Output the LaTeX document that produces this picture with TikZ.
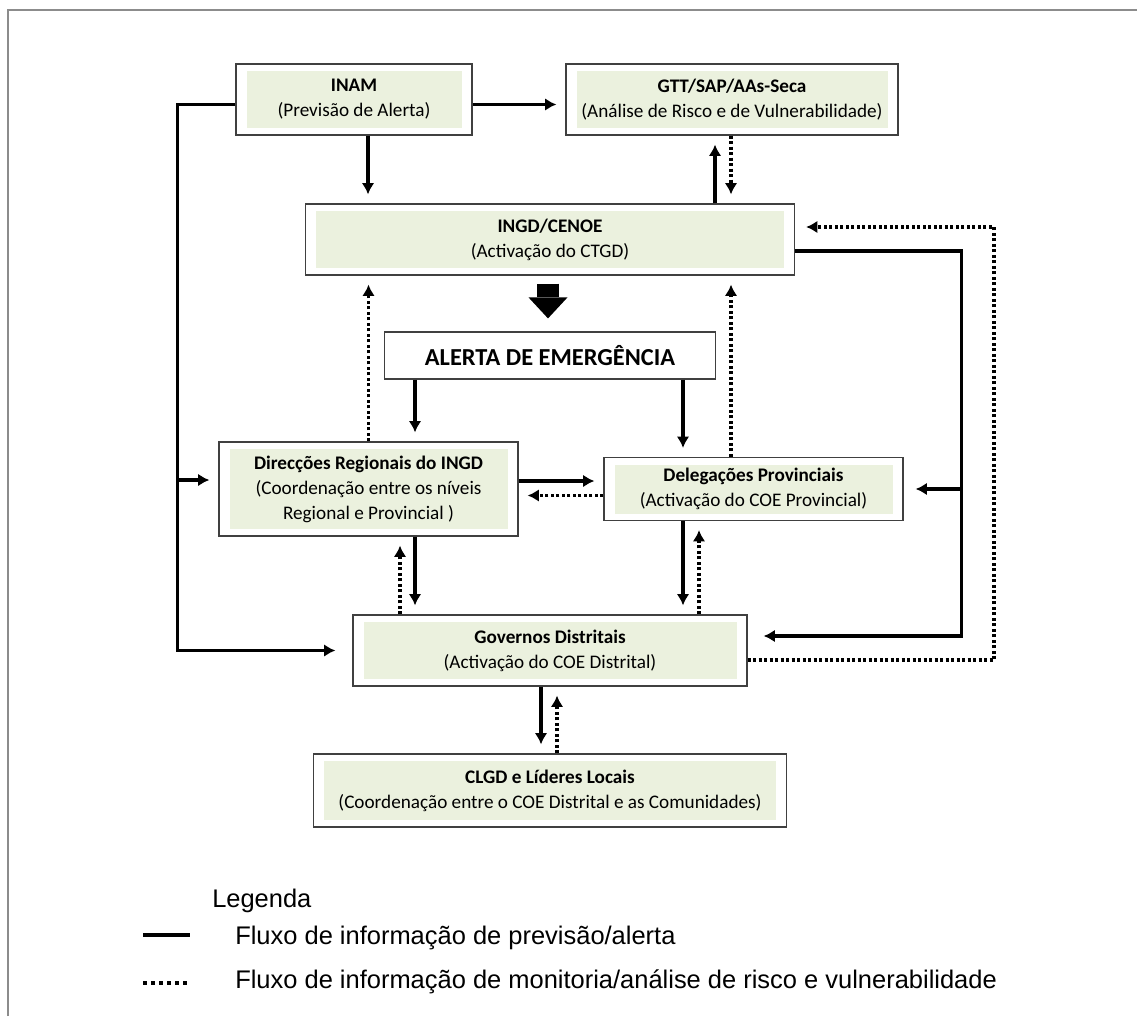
\documentclass[tikz,border=0pt]{standalone}
\usepackage{fontspec}
\setmainfont{Carlito}
\newfontfamily\legfont{Liberation Sans}
\usetikzlibrary{shapes,arrows.meta}
\newlength{\upx}\setlength{\upx}{0.75pt}
\definecolor{boxgreen}{HTML}{EBF1DE}
\definecolor{framegray}{HTML}{8C8C8C}
\tikzstyle{block} = [rectangle, draw=black!75, fill=white, line width=1.2\upx,
    align=center, inner sep=0pt, font=\fontsize{14.4}{18.75}\selectfont,
    path picture={\fill[boxgreen] ([xshift=10.5\upx,yshift=7\upx]path picture bounding box.south west)
        rectangle ([xshift=-10.5\upx,yshift=-7\upx]path picture bounding box.north east);}]
\tikzstyle{plainbox} = [rectangle, draw=black!75, fill=white, line width=1.2\upx,
    inner sep=0pt, font=\fontsize{18.3}{22}\selectfont\bfseries]
\tikzstyle{line} = [draw, -{Latex[length=8.5pt,width=9.5pt]}, line width=3.3\upx, shorten >=9\upx]
\tikzstyle{dotline} = [line, dash pattern=on 3\upx off 2.5\upx]
\tikzstyle{bigarrow} = [draw, line width=22\upx, -{Triangle[length=15.75pt,width=29.25pt,line width=0pt]}]
\tikzstyle{legtext} = [inner sep=0pt, font=\legfont\fontsize{19.1}{23}\selectfont]

\begin{document}
\begin{tikzpicture}[x=0.75pt, y=-0.75pt, auto]
    \useasboundingbox (0,0) rectangle (1137,1016);
    \draw [framegray, line width=1.5\upx] (8,1016) -- (8,10) -- (1137,10);

    % Place nodes
    \node [block, minimum width=489\upx, minimum height=71\upx] (ingd) at (550,239.5) {\textbf{INGD/CENOE}\\(Activação do CTGD)};
    \node [block, above of=ingd, node distance=140\upx, xshift=-196\upx, minimum width=236\upx, minimum height=71\upx] (inam) {\textbf{INAM}\\(Previsão de Alerta)};
    \node [block, right of=inam, node distance=378\upx, minimum width=332\upx, minimum height=71\upx] (gtt) {\textbf{GTT/SAP/AAs-Seca}\\(Análise de Risco e de Vulnerabilidade)};
    \node [plainbox, below of=ingd, node distance=116\upx, minimum width=331\upx, minimum height=47\upx] (alerta) {ALERTA DE EMERGÊNCIA};
    \node [block, below of=alerta, node distance=133.5\upx, xshift=-181.5\upx, minimum width=299\upx, minimum height=94\upx] (direc) {\textbf{Direcções Regionais do INGD}\\(Coordenação entre os níveis\\Regional e Provincial )};
    \node [block, right of=direc, node distance=385\upx, minimum width=299\upx, minimum height=63\upx] (deleg) {\textbf{Delegações Provinciais}\\(Activação do COE Provincial)};
    \node [block, below of=alerta, node distance=295\upx, minimum width=394\upx, minimum height=71\upx] (gov) {\textbf{Governos Distritais}\\(Activação do COE Distrital)};
    \node [block, below of=gov, node distance=140\upx, minimum width=473\upx, minimum height=73\upx] (clgd) {\textbf{CLGD e Líderes Locais}\\(Coordenação entre o COE Distrital e as Comunidades)};

    % Draw edges
    \path [line] ([yshift=-5\upx]inam.east) -- ([yshift=-5\upx]inam.east -| gtt.west);
    \path [line] ([xshift=14\upx]inam.south) -- ([xshift=14\upx]inam.south |- ingd.north);
    \path [line] ([xshift=-17\upx]gtt.south |- ingd.north) -- ([xshift=-17\upx]gtt.south);
    \path [dotline] ([xshift=-1\upx]gtt.south) -- ([xshift=-1\upx]gtt.south |- ingd.north);
    \path [bigarrow, shorten <=6pt, shorten >=9.75pt] ([xshift=-2\upx]ingd.south) -- ([xshift=-2\upx]alerta.north);
    \path [line] ([xshift=46.5\upx]direc.north |- alerta.south) -- ([xshift=46.5\upx]direc.north);
    \path [line] ([xshift=-70.5\upx]deleg.north |- alerta.south) -- ([xshift=-70.5\upx]deleg.north);
    \path [dotline] (direc.north) -- (direc.north |- ingd.south);
    \path [dotline] ([xshift=-22.5\upx]deleg.north) -- ([xshift=-22.5\upx]deleg.north |- ingd.south);
    \path [line] ([yshift=8\upx]direc.east) -- ([yshift=8\upx]direc.east -| deleg.west);
    \path [dotline] ([yshift=-6.5\upx]deleg.west) -- ([yshift=-6.5\upx]deleg.west -| direc.east);
    \path [line] ([xshift=46.5\upx]direc.south) -- ([xshift=46.5\upx]direc.south |- gov.north);
    \path [dotline] ([xshift=31.5\upx]direc.south |- gov.north) -- ([xshift=31.5\upx]direc.south);
    \path [line] ([xshift=-70.5\upx]deleg.south) -- ([xshift=-70.5\upx]deleg.south |- gov.north);
    \path [dotline] ([xshift=-54.5\upx]deleg.south |- gov.north) -- ([xshift=-54.5\upx]deleg.south);
    \path [line] ([xshift=-9\upx]gov.south) -- ([xshift=-9\upx]gov.south |- clgd.north);
    \path [dotline] ([xshift=7\upx]clgd.north) -- ([xshift=7\upx]clgd.north |- gov.south);

    % outer loops
    \path [line, shorten >=17\upx] ([yshift=-5\upx]inam.west) -| ([xshift=-175\upx]gov.west) -- (gov.west);
    \path [line] ([xshift=-41\upx,yshift=9\upx]direc.west) -- ([yshift=9\upx]direc.west);
    \path [line, shorten >=16\upx] ([yshift=-11.5\upx]ingd.east) -| ([xshift=214\upx,yshift=14.5\upx]gov.east) -- ([yshift=14.5\upx]gov.east);
    \path [line, shorten >=12\upx] ([xshift=58\upx]deleg.east) -- (deleg.east);
    \path [dotline, shorten >=11\upx] ([yshift=-9.5\upx]gov.east) -| ([xshift=199\upx,yshift=12.5\upx]ingd.east) -- ([yshift=12.5\upx]ingd.east);

    % Legend
    \node [legtext, anchor=base west] (legtitle) at (212,907) {Legenda};
    \node [legtext, anchor=base west] (leg1) at (235,944) {Fluxo de informação de previsão/alerta};
    \node [legtext, anchor=base west] (leg2) at (235,988) {Fluxo de informação de monitoria/análise de risco e vulnerabilidade};
    \draw [line width=3.3\upx] ([xshift=-92\upx,yshift=9\upx]leg1.base west) -- ([xshift=-45\upx,yshift=9\upx]leg1.base west);
    \draw [line width=3.5\upx, dash pattern=on 3.5\upx off 4.5\upx] ([xshift=-92\upx,yshift=5\upx]leg2.base west) -- ([xshift=-45\upx,yshift=5\upx]leg2.base west);
\end{tikzpicture}
\end{document}
